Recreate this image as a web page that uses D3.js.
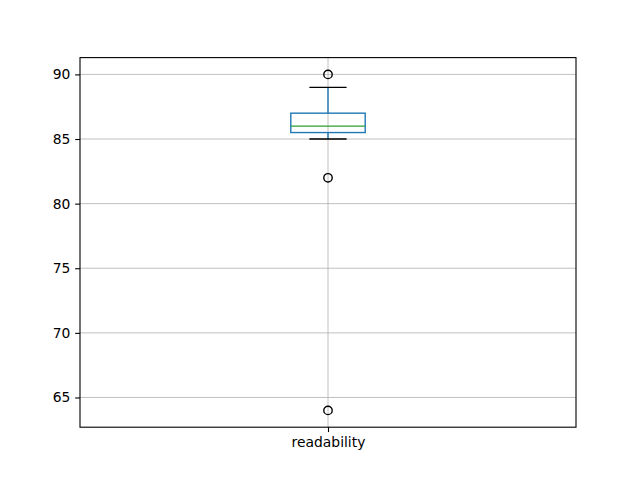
<!DOCTYPE html>
<html><head><meta charset="utf-8">
<script src="https://cdn.jsdelivr.net/npm/d3@7"></script>
<style>body{margin:0;background:#fff}svg{display:block}</style>
</head><body>
<script>
const categories = ["readability"];
const q1 = [85.5];
const median = [86];
const q3 = [87];
const whiskerLow = [85];
const whiskerHigh = [89];
const outliers = [[90, 82, 64]];
const yTicks = [65, 70, 75, 80, 85, 90];

const W = 640, H = 480;
const L = 80, R = 576, T = 57.6, B = 427.2;
const svg = d3.select("body").append("svg").attr("width", W).attr("height", H);
const font = "DejaVu Sans, sans-serif";

const x = d3.scaleLinear().domain([0.5, categories.length + 0.5]).range([L, R]);
const y = d3.scaleLinear().domain([62.7, 91.3]).range([B, T]);

// grid
const g = svg.append("g");
g.selectAll("line.hy").data(yTicks).join("line")
  .attr("x1", L).attr("x2", R).attr("y1", d => y(d)).attr("y2", d => y(d))
  .attr("stroke", "#b0b0b0").attr("stroke-width", 0.8);
g.selectAll("line.vx").data(categories).join("line")
  .attr("x1", (d, i) => x(i + 1)).attr("x2", (d, i) => x(i + 1)).attr("y1", T).attr("y2", B)
  .attr("stroke", "#b0b0b0").attr("stroke-width", 0.8);

const lw = 1.39;
// boxes
categories.forEach((c, i) => {
  const cx = x(i + 1);
  const bw = x(1.075) - x(1);
  const cw = x(1.0375) - x(1);
  svg.append("line").attr("x1", cx).attr("x2", cx).attr("y1", y(q3[i])).attr("y2", y(whiskerHigh[i]))
    .attr("stroke", "#1f77b4").attr("stroke-width", lw);
  svg.append("line").attr("x1", cx).attr("x2", cx).attr("y1", y(q1[i])).attr("y2", y(whiskerLow[i]))
    .attr("stroke", "#1f77b4").attr("stroke-width", lw);
  svg.append("rect").attr("x", cx - bw).attr("width", 2 * bw)
    .attr("y", y(q3[i])).attr("height", y(q1[i]) - y(q3[i]))
    .attr("fill", "none").attr("stroke", "#1f77b4").attr("stroke-width", lw);
  svg.append("line").attr("x1", cx - bw).attr("x2", cx + bw).attr("y1", y(median[i])).attr("y2", y(median[i]))
    .attr("stroke", "#2ca02c").attr("stroke-width", lw);
  [whiskerLow[i], whiskerHigh[i]].forEach(v => {
    svg.append("line").attr("x1", cx - cw).attr("x2", cx + cw).attr("y1", y(v)).attr("y2", y(v))
      .attr("stroke", "#000").attr("stroke-width", lw);
  });
  svg.selectAll(null).data(outliers[i]).join("circle")
    .attr("cx", cx).attr("cy", d => y(d)).attr("r", 4.2)
    .attr("fill", "none").attr("stroke", "#000").attr("stroke-width", lw);
});

// axes
const yAxis = d3.axisLeft(y).tickValues(yTicks).tickSize(4.86).tickPadding(4.86);
const ya = svg.append("g").attr("transform", `translate(${L},0)`).call(yAxis);
const xAxis = d3.axisBottom(x).tickValues(categories.map((c, i) => i + 1))
  .tickFormat((d) => categories[d - 1]).tickSize(4.86).tickPadding(4.86);
const xa = svg.append("g").attr("transform", `translate(0,${B})`).call(xAxis);
[ya, xa].forEach(a => {
  a.select(".domain").remove();
  a.selectAll("text").attr("font-family", font).attr("font-size", 13.89).attr("fill", "#000");
  a.selectAll("line").attr("stroke", "#000").attr("stroke-width", 1.1);
});

svg.append("rect").attr("x", L).attr("y", T).attr("width", R - L).attr("height", B - T)
  .attr("fill", "none").attr("stroke", "#000").attr("stroke-width", 1.1);
</script>
</body></html>
